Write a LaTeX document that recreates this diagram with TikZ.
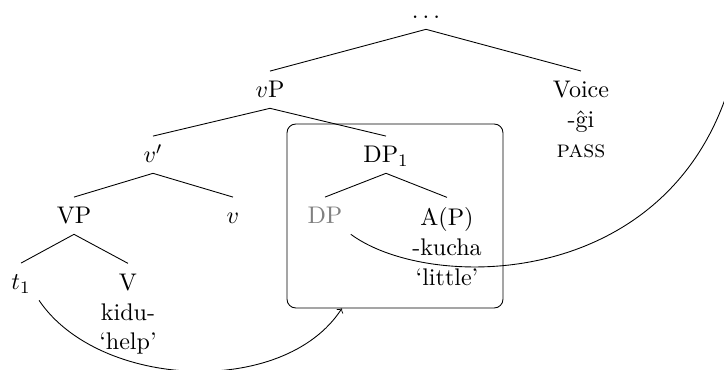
\documentclass[tikz,border=0pt,11pt]{standalone}
\usepackage{fontspec}
\usetikzlibrary{calc}
\begin{document}
\begin{tikzpicture}[every node/.style={align=center, inner ysep=4.5pt},
    cat/.style={anchor=base, text height=1.6ex, text depth=0pt},
    stack/.style={anchor=north}]
    \clip (0,0) rectangle (11.584,-5.92);

    \node[cat] (top) at (6.816,-0.304) {$\dots$};
    \node[cat] (vP) at (4.32,-1.568) {$v$P};
    \node[stack] (voice) at (9.296,-1.136) {Voice\\-ĝi\\\textsc{pass}};
    \node[cat] (vbar) at (2.448,-2.608) {$v'$};
    \node[cat] (DP1) at (6.176,-2.608) {DP$_1$};
    \node[cat] (VP) at (1.184,-3.584) {VP};
    \node[cat] (v) at (3.728,-3.584) {$v$};
    \node[cat, gray] (DP) at (5.2,-3.584) {DP};
    \node[stack] (AP) at (7.152,-3.158) {A(P)\\-kucha\\`little'};
    \node[cat] (t1) at (0.336,-4.64) {$t_1$};
    \node[stack] (V) at (2.048,-4.214) {V\\kidu-\\`help'};

    \node[draw, rounded corners, inner sep=0pt,
        minimum width=3.456cm, minimum height=2.944cm] (box) at (6.32,-3.456) {};
    \coordinate (off) at (11.92,0.32);

    \draw (top.south) -- (vP.north);
    \draw (top.south) -- (voice.north);
    \draw (vP.south) -- (vbar.north);
    \draw (vP.south) -- (DP1.north);
    \draw (vbar.south) -- (VP.north);
    \draw (vbar.south) -- (v.north);
    \draw (DP1.south) -- (DP.north);
    \draw (DP1.south) -- (AP.north);
    \draw (VP.south) -- (t1.north);
    \draw (VP.south) -- (V.north);

    \draw[->] (t1.south east) to[out=-56, in=-123, looseness=0.9] ($(box.south west)!0.255!(box.south east)$);
    \draw[->] (DP.south east) .. controls (7.04,-4.8) and (11.84,-4.64) .. (off);
\end{tikzpicture}
\end{document}
